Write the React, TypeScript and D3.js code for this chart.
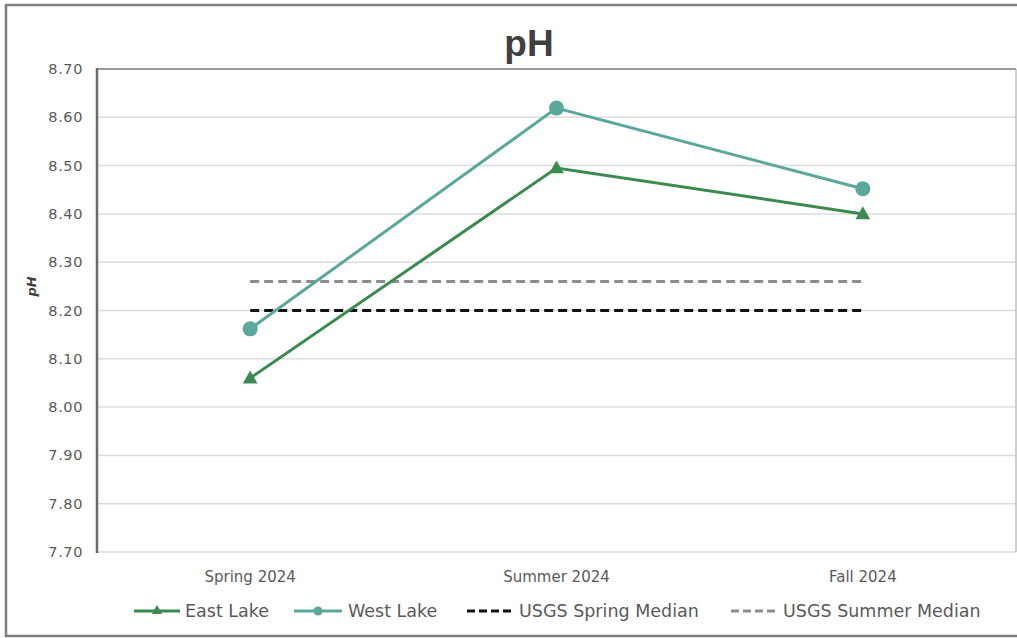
import React from "react";
import * as d3 from "d3";

const categories = ["Spring 2024", "Summer 2024", "Fall 2024"];
const eastLake = [8.06, 8.495, 8.40];
const westLake = [8.162, 8.619, 8.452];
const usgsSpringMedian = 8.20;
const usgsSummerMedian = 8.26;
const yTicks = [7.7, 7.8, 7.9, 8.0, 8.1, 8.2, 8.3, 8.4, 8.5, 8.6, 8.7];

const W = 1017;
const H = 638;
const M = { left: 97, right: 1016, top: 69, bottom: 552 };
const EAST = "#3b8a50";
const WEST = "#5aa89c";
const FONT = "'DejaVu Sans', sans-serif";

export default function App() {
  const x = d3.scalePoint<string>().domain(categories).range([M.left, M.right]).padding(0.5);
  const y = d3.scaleLinear().domain([7.7, 8.7]).range([M.bottom, M.top]);
  const line = d3
    .line<number>()
    .x((_, i) => x(categories[i]) as number)
    .y((d) => y(d));
  const tri = d3.symbol().type(d3.symbolTriangle).size(95)();
  const x0 = x(categories[0]) as number;
  const x2 = x(categories[2]) as number;

  const legendItems = [
    { label: "East Lake", sx: 134, tx: 185, kind: "east" },
    { label: "West Lake", sx: 294, tx: 348, kind: "west" },
    { label: "USGS Spring Median", sx: 467, tx: 519, kind: "spring" },
    { label: "USGS Summer Median", sx: 731, tx: 783, kind: "summer" },
  ];
  const ly = 611;

  return (
    <div style={{ position: "absolute", left: 0, top: 0 }}>
      <svg width={W} height={H} style={{ display: "block", background: "#fff" }}>
        <rect x={6} y={5} width={1040} height={631} fill="#fff" stroke="#7f7f7f" strokeWidth={2.5} />
        <text x={529} y={56} textAnchor="middle" fontFamily="'Liberation Sans', Arial, sans-serif" fontWeight="bold" fontSize={37} fill="#404040">
          pH
        </text>
        {yTicks.map((t) => (
          <g key={t}>
            <line x1={M.left} x2={M.right} y1={y(t)} y2={y(t)} stroke={t === 8.7 ? "#9a9a9a" : "#dcdcdc"} strokeWidth={t === 8.7 ? 2 : 1.5} />
            <text x={83} y={y(t) + 5} textAnchor="end" fontFamily={FONT} fontSize={14.5} letterSpacing={0.6} fill="#595959">
              {t.toFixed(2)}
            </text>
          </g>
        ))}
        <line x1={M.right} x2={M.right} y1={M.top} y2={M.bottom} stroke="#bfbfbf" strokeWidth={1.5} />
        <line x1={M.left} x2={M.left} y1={M.top - 1} y2={M.bottom + 1} stroke="#6a6a6a" strokeWidth={2.5} />
        <text transform={`translate(36,${y(8.25)}) rotate(-90)`} textAnchor="middle" fontFamily={FONT} fontStyle="italic" fontWeight="bold" fontSize={13} fill="#404040">
          pH
        </text>
        {categories.map((c) => (
          <text key={c} x={x(c)} y={582} textAnchor="middle" fontFamily={FONT} fontSize={15} fill="#595959">
            {c}
          </text>
        ))}
        <line x1={x0} x2={x2} y1={y(usgsSummerMedian)} y2={y(usgsSummerMedian)} stroke="#8c8c8c" strokeWidth={3} strokeDasharray="9 5" />
        <line x1={x0} x2={x2} y1={y(usgsSpringMedian)} y2={y(usgsSpringMedian)} stroke="#111" strokeWidth={3} strokeDasharray="9 5" />
        <path d={line(westLake) || ""} fill="none" stroke={WEST} strokeWidth={3} />
        <path d={line(eastLake) || ""} fill="none" stroke={EAST} strokeWidth={3} />
        {westLake.map((v, i) => (
          <circle key={i} cx={x(categories[i])} cy={y(v)} r={7.5} fill={WEST} />
        ))}
        {eastLake.map((v, i) => (
          <path key={i} d={tri || ""} transform={`translate(${x(categories[i])},${y(v) + 1})`} fill={EAST} />
        ))}
        {legendItems.map((it) => (
          <g key={it.label}>
            {it.kind === "east" && (
              <>
                <line x1={it.sx} x2={it.sx + 46} y1={ly} y2={ly} stroke={EAST} strokeWidth={3} />
                <path d={d3.symbol().type(d3.symbolTriangle).size(45)() || ""} transform={`translate(${it.sx + 23},${ly})`} fill={EAST} />
              </>
            )}
            {it.kind === "west" && (
              <>
                <line x1={it.sx} x2={it.sx + 48} y1={ly} y2={ly} stroke={WEST} strokeWidth={3} />
                <circle cx={it.sx + 24} cy={ly} r={4.5} fill={WEST} />
              </>
            )}
            {it.kind === "spring" && (
              <line x1={it.sx} x2={it.sx + 48} y1={ly} y2={ly} stroke="#111" strokeWidth={3} strokeDasharray="8 4" />
            )}
            {it.kind === "summer" && (
              <line x1={it.sx} x2={it.sx + 48} y1={ly} y2={ly} stroke="#8c8c8c" strokeWidth={3} strokeDasharray="8 4" />
            )}
            <text x={it.tx} y={ly + 6} fontFamily={FONT} fontSize={17.5} fill="#595959">
              {it.label}
            </text>
          </g>
        ))}
      </svg>
    </div>
  );
}
